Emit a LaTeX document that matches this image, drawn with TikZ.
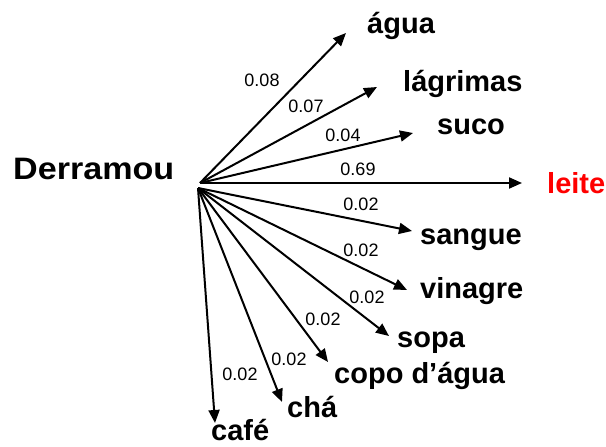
\documentclass[tikz,border=0pt]{standalone}
\usepackage{fontspec}
\setmainfont{Liberation Sans}
\usepackage{graphicx}
\usetikzlibrary{arrows.meta}
\begin{document}
\begin{tikzpicture}[x=1pt,y=-1pt,
  word/.style={font=\fontsize{29}{29}\selectfont\bfseries, inner sep=0pt, anchor=base west},
  prob/.style={font=\fontsize{18}{18}\selectfont, inner sep=0pt},
  edge/.style={line width=2pt, -{Triangle[length=13pt,width=11pt]}}]
\useasboundingbox (0,0) rectangle (606,447);
% source
\node[word, font=\fontsize{31}{31}\selectfont\bfseries] (src) at (13,179.5) {\scalebox{1.1}[1]{Derramou}};
\coordinate (hubA) at (200,183);
\coordinate (hubB) at (198,188);
% targets
\node[word] (agua) at (367,34) {água};
\node[word] (lagrimas) at (403,91) {lágrimas};
\node[word] (suco) at (437,134) {suco};
\node[word, text=red] (leite) at (547,193) {leite};
\node[word] (sangue) at (420,244) {sangue};
\node[word] (vinagre) at (420,298) {vinagre};
\node[word] (sopa) at (397,347) {sopa};
\node[word] (copo) at (334,383) {copo d’água};
\node[word] (cha) at (287,417) {chá};
\node[word] (cafe) at (211,440) {café};
% arrow tips
\coordinate (tAgua) at (346,33);
\coordinate (tLagrimas) at (377,87);
\coordinate (tSuco) at (413,133);
\coordinate (tLeite) at (522,183);
\coordinate (tSangue) at (412,231);
\coordinate (tVinagre) at (407,290);
\coordinate (tSopa) at (389,336);
\coordinate (tCopo) at (328,362);
\coordinate (tCha) at (282,402);
\coordinate (tCafe) at (215,423);
% edges
\draw[edge] (hubA) -- (tAgua);
\draw[edge] (hubA) -- (tLagrimas);
\draw[edge] (hubA) -- (tSuco);
\draw[edge] (hubA) -- (tLeite);
\draw[edge] (hubB) -- (tSangue);
\draw[edge] (hubB) -- (tVinagre);
\draw[edge] (hubB) -- (tSopa);
\draw[edge] (hubB) -- (tCopo);
\draw[edge] (hubB) -- (tCha);
\draw[edge] (hubB) -- (tCafe);
% probabilities
\node[prob] (pAgua) at (262,80) {0.08};
\node[prob] (pLagrimas) at (306,106) {0.07};
\node[prob] (pSuco) at (343,135) {0.04};
\node[prob] (pLeite) at (358,169) {0.69};
\node[prob] (pSangue) at (361,204) {0.02};
\node[prob] (pVinagre) at (361,250) {0.02};
\node[prob] (pSopa) at (367,297) {0.02};
\node[prob] (pCopo) at (323,319) {0.02};
\node[prob] (pCha) at (289,359) {0.02};
\node[prob] (pCafe) at (240,374) {0.02};
\end{tikzpicture}
\end{document}
